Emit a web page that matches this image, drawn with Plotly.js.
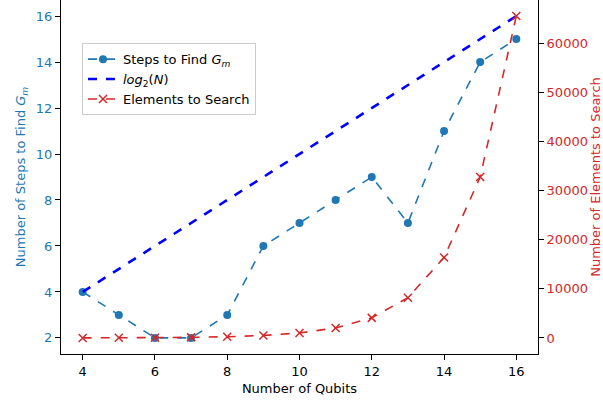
<!DOCTYPE html>
<html>
<head>
<meta charset="utf-8">
<script src="https://cdn.plot.ly/plotly-3.0.1.min.js"></script>
<style>html,body{margin:0;padding:0;background:#fff;}#chart{width:603px;height:404px;}</style>
</head>
<body>
<div id="chart"></div>
<script>
const qubits = [4, 5, 6, 7, 8, 9, 10, 11, 12, 13, 14, 15, 16];
const stepsToFind = [4, 3, 2, 2, 3, 6, 7, 8, 9, 7, 11, 14, 15];
const log2N = [4, 5, 6, 7, 8, 9, 10, 11, 12, 13, 14, 15, 16];
const elementsToSearch = [16, 32, 64, 128, 256, 512, 1024, 2048, 4096, 8192, 16384, 32768, 65536];

const font = "DejaVu Sans, sans-serif";
const traces = [
  {x: qubits, y: stepsToFind, type: 'scatter', mode: 'lines+markers',
   name: 'Steps to Find <i>G</i><sub><i>m</i></sub>',
   line: {color: '#1f77b4', dash: 'dash', width: 1.6},
   marker: {color: '#1f77b4', size: 8, symbol: 'circle'}, yaxis: 'y'},
  {x: qubits, y: log2N, type: 'scatter', mode: 'lines',
   name: '<i>log</i><sub>2</sub>(<i>N</i>)',
   line: {color: '#0000ff', dash: 'dash', width: 2.6}, yaxis: 'y'},
  {x: qubits, y: elementsToSearch, type: 'scatter', mode: 'lines+markers',
   name: 'Elements to Search',
   line: {color: '#d62728', dash: 'dash', width: 1.6},
   marker: {color: '#d62728', size: 8, symbol: 'x-thin', line: {color: '#d62728', width: 1.5}}, yaxis: 'y2'}
];

const layout = {
  width: 603, height: 404,
  margin: {l: 61, r: 65, t: 0, b: 50},
  paper_bgcolor: '#fff', plot_bgcolor: '#fff',
  font: {family: font, size: 13, color: '#000'},
  showlegend: true,
  legend: {x: 0.044, y: 0.878, xanchor: 'left', yanchor: 'top',
           bgcolor: 'rgba(255,255,255,0.8)', bordercolor: '#cccccc', borderwidth: 1,
           font: {family: font, size: 13}, tracegroupgap: 0},
  xaxis: {range: [3.4, 16.6], tickvals: [4, 6, 8, 10, 12, 14, 16], showgrid: false, zeroline: false,
          automargin: true,
          showline: true, linecolor: '#000', linewidth: 1, mirror: true,
          ticks: 'outside', ticklen: 5, tickcolor: '#000',
          tickfont: {family: font, size: 13, color: '#000'},
          title: {text: 'Number of Qubits', font: {family: font, size: 13, color: '#000'}, standoff: 6}},
  yaxis: {range: [1.3, 16.7], tickvals: [2, 4, 6, 8, 10, 12, 14, 16], showgrid: false, zeroline: false,
          automargin: false,
          showline: true, linecolor: '#000', linewidth: 1,
          ticks: 'outside', ticklen: 5, tickcolor: '#000',
          tickfont: {family: font, size: 13, color: '#1f77b4'},
          title: {text: 'Number of Steps to Find <i>G</i><sub><i>m</i></sub>', font: {family: font, size: 13, color: '#1f77b4'}}},
  yaxis2: {range: [-3260, 68812], overlaying: 'y', side: 'right',
           tickvals: [0, 10000, 20000, 30000, 40000, 50000, 60000], tickformat: 'd',
           showgrid: false, zeroline: false, automargin: false,
           showline: true, linecolor: '#000', linewidth: 1,
           ticks: 'outside', ticklen: 5, tickcolor: '#000',
           tickfont: {family: font, size: 13, color: '#d62728'},
           title: {text: 'Number of Elements to Search', font: {family: font, size: 13, color: '#d62728'}}}
};

Plotly.newPlot('chart', traces, layout, {staticPlot: true, displayModeBar: false});
</script>
</body>
</html>
